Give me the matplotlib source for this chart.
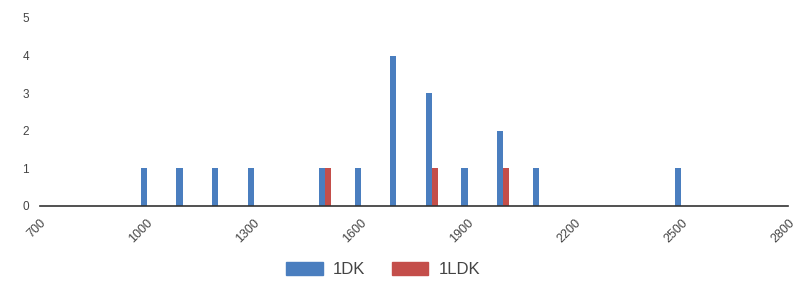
import numpy as np
import matplotlib.pyplot as plt
from matplotlib.patches import Patch

# rent (x) and counts per room type
prices = [1000, 1100, 1200, 1300, 1500, 1600, 1700, 1800, 1900, 2000, 2100, 2500]
count_1dk = [1, 1, 1, 1, 1, 1, 4, 3, 1, 2, 1, 1]
count_1ldk = [0, 0, 0, 0, 1, 0, 0, 1, 0, 1, 0, 0]
xticks = [700, 1000, 1300, 1600, 1900, 2200, 2500, 2800]
yticks = [0, 1, 2, 3, 4, 5]

BLUE = "#4A7EBF"
RED = "#C44E4A"
TXT = "#444444"

plt.rcParams['font.family'] = ['Liberation Sans', 'DejaVu Sans']

fig = plt.figure(figsize=(8.01, 2.9), dpi=100)
ax = fig.add_axes([0.05, 0.29, 0.934, 0.648])

x = np.array(prices, dtype=float)
w = 17
ax.bar(x - w / 2, count_1dk, width=w, color=BLUE, zorder=2)
c2 = np.array(count_1ldk)
ax.bar((x + w / 2)[c2 > 0], c2[c2 > 0], width=w, color=RED, zorder=2)

ax.set_xlim(700, 2800)
ax.set_ylim(0, 5)
ax.set_xticks(xticks)
ax.set_xticklabels([str(t) for t in xticks], rotation=45, ha='right',
                   va='top', rotation_mode='anchor', fontsize=9, color=TXT)
ax.set_yticks(yticks)
ax.set_yticklabels([str(t) for t in yticks], fontsize=8.5, color=TXT)
ax.tick_params(axis='both', length=0)
ax.tick_params(axis='y', pad=8)
ax.tick_params(axis='x', pad=8)

for sp in ("top", "right", "left"):
    ax.spines[sp].set_visible(False)
ax.spines["bottom"].set_color("#333333")
ax.spines["bottom"].set_linewidth(1.2)
ax.spines["bottom"].set_zorder(3)

handles = [Patch(color=BLUE, label="1DK"), Patch(color=RED, label="1LDK")]
fig.legend(handles=handles, loc='center', bbox_to_anchor=(0.478, 0.07), ncol=2,
           frameon=False, fontsize=12, handlelength=2.2, handleheight=0.8,
           handletextpad=0.6, columnspacing=1.6, labelcolor=TXT)

fig.savefig("out.png", dpi=100)
